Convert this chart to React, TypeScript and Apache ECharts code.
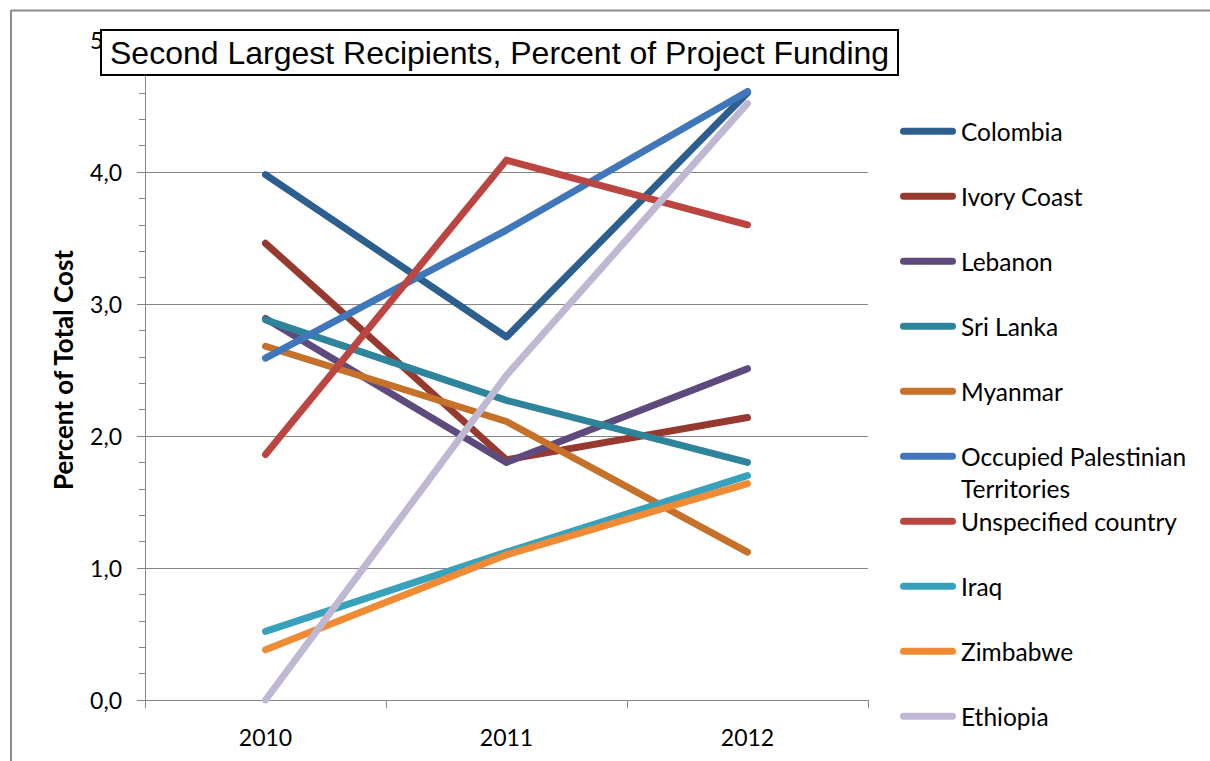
import React, { useEffect, useRef } from "react";
import * as echarts from "echarts";

const years = ["2010", "2011", "2012"];
const countries = [
  "Colombia",
  "Ivory Coast",
  "Lebanon",
  "Sri Lanka",
  "Myanmar",
  "Occupied Palestinian Territories",
  "Unspecified country",
  "Iraq",
  "Zimbabwe",
  "Ethiopia",
];
const colombia = [3.98, 2.75, 4.6];
const ivoryCoast = [3.46, 1.82, 2.14];
const lebanon = [2.89, 1.8, 2.51];
const sriLanka = [2.88, 2.27, 1.8];
const myanmar = [2.68, 2.11, 1.12];
const palestinian = [2.59, 3.56, 4.61];
const unspecified = [1.86, 4.09, 3.6];
const iraq = [0.52, 1.12, 1.7];
const zimbabwe = [0.38, 1.1, 1.64];
const ethiopia = [0.0, 2.46, 4.52];
const seriesValues = [colombia, ivoryCoast, lebanon, sriLanka, myanmar, palestinian, unspecified, iraq, zimbabwe, ethiopia];
const colors = ["#2c5f8e", "#963a30", "#5f4a7e", "#2e849b", "#c5712a", "#4077ba", "#bb4641", "#38a2bd", "#ef8b35", "#c0b8d3"];

const titleText = "Second Largest Recipients, Percent of Project Funding";
const yAxisName = "Percent of Total Cost";

export default function App() {
  const ref = useRef<HTMLDivElement>(null);
  useEffect(() => {
    if (!ref.current) return;
    const chart = echarts.init(ref.current, null, { renderer: "svg" });
    const labelFont = "Lato";
    chart.setOption({
      animation: false,
      backgroundColor: "#ffffff",
      title: {
        text: titleText,
        left: 101,
        top: 30,
        padding: [6, 9, 6, 9],
        borderColor: "#000000",
        borderWidth: 2,
        backgroundColor: "#ffffff",
        textStyle: { fontFamily: "Liberation Sans", fontSize: 32, lineHeight: 33, fontWeight: "normal", color: "#000000" },
        z: 10,
      },
      grid: { left: 145, right: 342, top: 40, bottom: 61 },
      legend: {
        orient: "vertical",
        left: 895,
        top: 110,
        itemGap: 32.5,
        itemWidth: 56,
        itemHeight: 7,
        icon: "path://M3.5,0H52.5A3.5,3.5,0,0,1,52.5,7H3.5A3.5,3.5,0,0,1,3.5,0Z",
        data: countries,
        formatter: (name: string) => (name === "Occupied Palestinian Territories" ? "Occupied Palestinian" : name),
        textStyle: { fontFamily: labelFont, fontSize: 24.5, color: "#000000", lineHeight: 32.5 },
      },
      graphic: [
        { type: "line", shape: { x1: 11, y1: 10.5, x2: 1210, y2: 10.5 }, style: { stroke: "#8c8c8c", lineWidth: 2 } },
        { type: "line", shape: { x1: 11, y1: 10, x2: 11, y2: 761 }, style: { stroke: "#8c8c8c", lineWidth: 2 } },
        {
          type: "text",
          left: 961,
          top: 476,
          style: { text: "Territories", font: `24.5px ${labelFont}`, fill: "#000000" },
        },
      ],
      xAxis: {
        type: "category",
        data: years,
        boundaryGap: true,
        axisLine: { lineStyle: { color: "#868686", width: 1 } },
        axisTick: { show: true, length: 8, lineStyle: { color: "#868686" } },
        axisLabel: { fontFamily: labelFont, fontSize: 23, color: "#000000", margin: 25 },
      },
      yAxis: {
        type: "value",
        min: 0,
        max: 5,
        interval: 1,
        name: yAxisName,
        nameLocation: "middle",
        nameGap: 69,
        nameTextStyle: { fontFamily: labelFont, fontSize: 26, fontWeight: "bold", color: "#000000" },
        axisLine: { show: true, lineStyle: { color: "#868686", width: 1 } },
        axisTick: { show: true, length: 8, lineStyle: { color: "#868686" } },
        minorTick: { show: true, splitNumber: 5, length: 6, lineStyle: { color: "#868686" } },
        splitLine: { show: true, lineStyle: { color: "#868686", width: 1 } },
        axisLabel: {
          fontFamily: labelFont,
          fontSize: 23,
          color: "#000000",
          margin: 23,
          formatter: (v: number) => v.toFixed(1).replace(".", ","),
        },
      },
      series: countries.map((name, i) => ({
        name,
        type: "line",
        data: seriesValues[i],
        symbol: "none",
        showSymbol: false,
        color: colors[i],
        lineStyle: { color: colors[i], width: 7, cap: "round", join: "round" },
        itemStyle: { color: colors[i] },
      })),
    });
    return () => chart.dispose();
  }, []);
  return <div ref={ref} style={{ position: "fixed", left: 0, top: 0, width: 1210, height: 761 }} />;
}
